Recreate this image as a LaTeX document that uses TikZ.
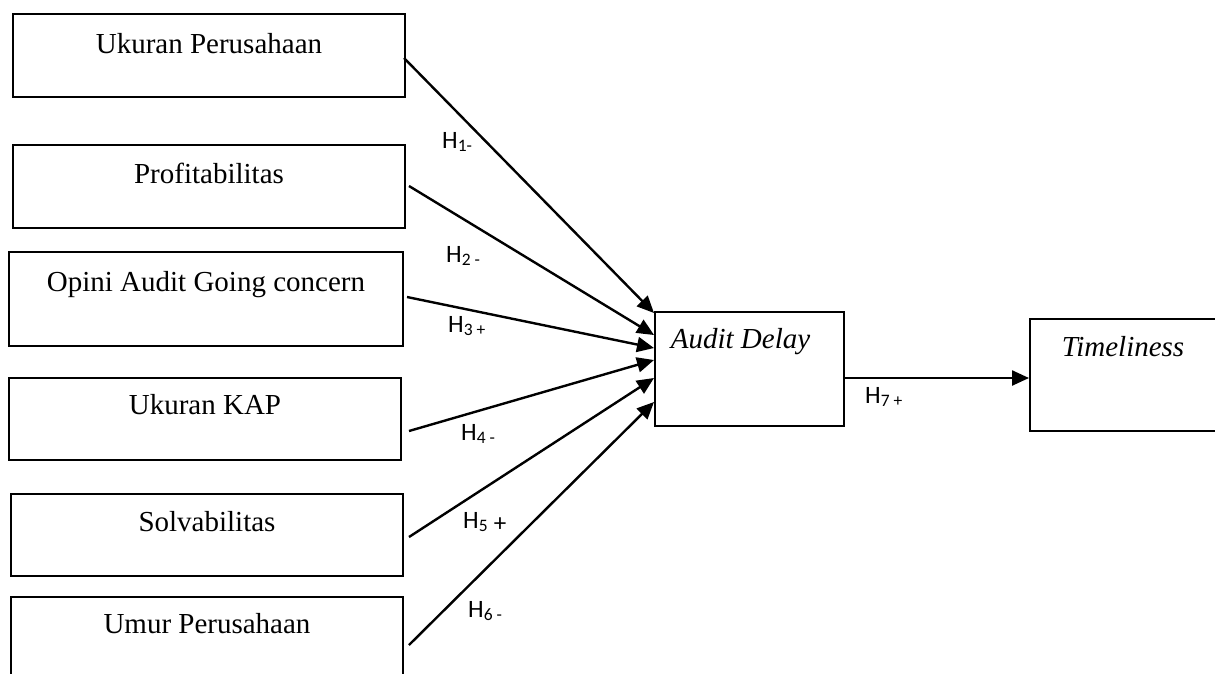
\documentclass[tikz,border=0pt]{standalone}
\usepackage{fontspec}
\setmainfont{Liberation Serif}
\newfontfamily\labfont{Carlito}
\usetikzlibrary{arrows.meta,calc}
\begin{document}
\begin{tikzpicture}[x=1pt,y=-1pt,
  vbox/.style={draw,line width=2pt,inner sep=0pt,anchor=north west,font=\fontsize{29}{29}\selectfont},
  arr/.style={line width=2.4pt,-{Triangle[length=17pt,width=15pt]}},
  hlab/.style={inner sep=0pt,anchor=base west,font=\labfont\fontsize{25}{25}\selectfont}]
\useasboundingbox (0,0) rectangle (1215,673);
\node[vbox,minimum width=392pt,text height=39pt,text depth=44pt] (b1) at (12,13) {Ukuran Perusahaan};
\node[vbox,minimum width=392pt,text height=38pt,text depth=45pt] (b2) at (12,144) {Profitabilitas};
\node[vbox,minimum width=394pt,text height=39pt,text depth=55pt] (b3) at (8,251) {Opini Audit Going concern};
\node[vbox,minimum width=392pt,text height=36pt,text depth=46pt] (b4) at (8,377) {Ukuran KAP};
\node[vbox,minimum width=392pt,text height=37pt,text depth=45pt] (b5) at (10,493) {Solvabilitas};
\node[vbox,minimum width=392pt,text height=36pt,text depth=60pt] (b6) at (10,596) {Umur Perusahaan};
\node[vbox,minimum width=189pt,text height=36pt,text depth=78pt] (ad) at (654,311) {\itshape Audit Delay\hspace*{18pt}};
\node[vbox,minimum width=186pt,text height=37pt,text depth=75pt] (tl) at (1029,318) {\itshape Timeliness};
\draw[arr] ($(b1.north east)+(-2,45)$) -- ($(ad.north west)+(0,2)$);
\draw[arr] ($(b2.north east)+(3,42)$) -- ($(ad.north west)+(0,24)$);
\draw[arr] ($(b3.north east)+(3,46)$) -- ($(ad.north west)+(0,37)$);
\draw[arr] ($(b4.north east)+(7,54)$) -- ($(ad.north west)+(0,49)$);
\draw[arr] ($(b5.north east)+(5,44)$) -- ($(ad.north west)+(0,67)$);
\draw[arr] ($(b6.north east)+(5,49)$) -- ($(ad.north west)+(0,91)$);
\draw[arr] ($(ad.north east)+(0,67)$) -- ($(tl.north west)+(0,60)$);
\node[hlab] (h1) at (442,148) {H\textsubscript{1-}};
\node[hlab] (h2) at (446,262) {H\textsubscript{2 -}};
\node[hlab] (h3) at (448,332) {H\textsubscript{3 +}};
\node[hlab] (h4) at (461,440) {H\textsubscript{4 -}};
\node[hlab] (h5) at (463,528) {H\textsubscript{5} \raisebox{-3pt}{+}};
\node[hlab] (h6) at (468,617) {H\textsubscript{6 -}};
\node[hlab] (h7) at (865,403) {H\textsubscript{7 +}};
\end{tikzpicture}
\end{document}
